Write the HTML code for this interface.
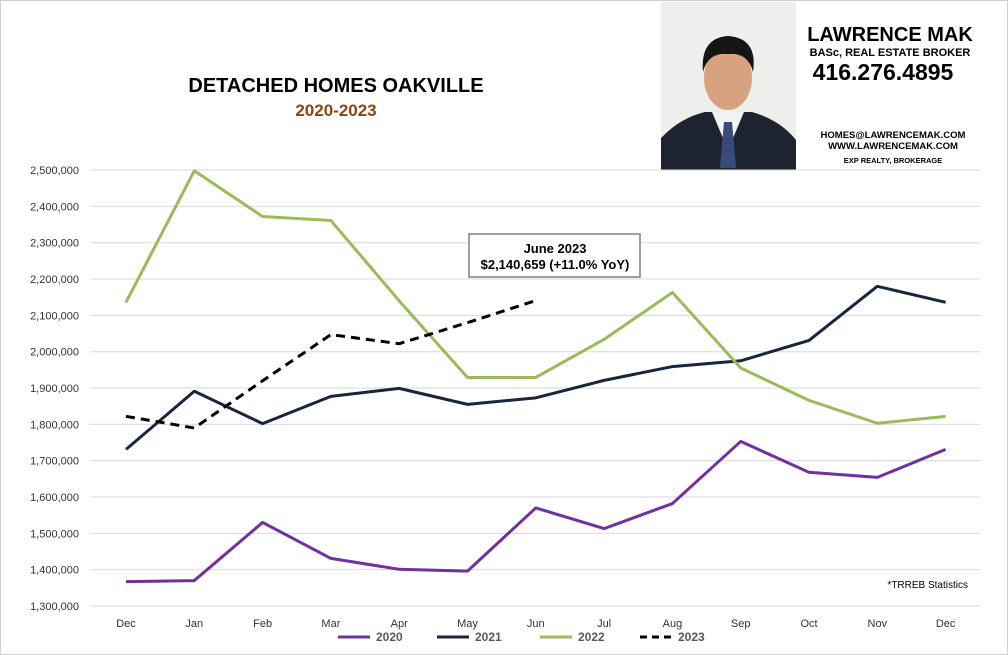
<!DOCTYPE html>
<html><head><meta charset="utf-8"><style>
body{margin:0;background:#fff;font-family:"Liberation Sans",Arial,sans-serif}
svg{display:block}
</style></head><body>
<svg width="1008" height="655" viewBox="0 0 1008 655" xmlns="http://www.w3.org/2000/svg">
<rect x="0.5" y="0.5" width="1007" height="654" fill="#fff" stroke="#d0d0d0"/>
<text x="336" y="92" text-anchor="middle" font-size="20" font-weight="bold" fill="#000">DETACHED HOMES OAKVILLE</text>
<text x="336" y="116" text-anchor="middle" font-size="17" font-weight="bold" fill="#8b4513">2020-2023</text>
<g>
<rect x="661" y="2" width="135" height="168" fill="#eeeeec"/>
<path d="M661 170 L661 138 Q680 118 705 112 L752 112 Q780 120 796 140 L796 170 Z" fill="#1d2430"/>
<path d="M712 112 L728 150 L744 112 Z" fill="#f2f2f2"/>
<path d="M724 122 L732 122 L736 168 L720 168 Z" fill="#3a4a78"/>
<ellipse cx="728" cy="78" rx="24" ry="32" fill="#d7a27f"/>
<path d="M703 72 Q700 38 728 36 Q758 38 753 72 Q748 52 728 54 Q708 52 703 72Z" fill="#151515"/>
<text x="890" y="41" text-anchor="middle" font-size="20" font-weight="bold" fill="#000">LAWRENCE MAK</text>
<text x="890" y="56" text-anchor="middle" font-size="11" font-weight="bold" fill="#000">BASc, REAL ESTATE BROKER</text>
<text x="883" y="80" text-anchor="middle" font-size="23" font-weight="bold" fill="#000">416.276.4895</text>
<text x="893" y="138" text-anchor="middle" font-size="9.5" font-weight="bold" fill="#000">HOMES@LAWRENCEMAK.COM</text>
<text x="893" y="149" text-anchor="middle" font-size="9.5" font-weight="bold" fill="#000">WWW.LAWRENCEMAK.COM</text>
<text x="893" y="163" text-anchor="middle" font-size="7.5" font-weight="bold" fill="#000">EXP REALTY, BROKERAGE</text>
</g>
<g id="grid"></g><g id="ylab"></g><g id="xlab"></g><g id="series"></g>
<g>
<rect x="469" y="234" width="171" height="43" fill="#fff" stroke="#808080" stroke-width="1.5"/>
<text x="555" y="253" text-anchor="middle" font-size="13" font-weight="bold">June 2023</text>
<text x="555" y="269" text-anchor="middle" font-size="13" font-weight="bold">$2,140,659  (+11.0%  YoY)</text>
</g>
<text x="968" y="588" text-anchor="end" font-size="10" fill="#000">*TRREB Statistics</text>
<g id="legend"></g>
</svg>
<script>
const categories=["Dec","Jan","Feb","Mar","Apr","May","Jun","Jul","Aug","Sep","Oct","Nov","Dec"];
const yTicks=[1300000,1400000,1500000,1600000,1700000,1800000,1900000,2000000,2100000,2200000,2300000,2400000,2500000];
const seriesNames=["2020","2021","2022","2023"];
const s2020=[1367000,1370000,1530000,1431000,1401000,1396000,1570000,1513000,1582000,1753000,1668000,1654000,1731000];
const s2021=[1731000,1891000,1802000,1877000,1899000,1855000,1873000,1921000,1959000,1975000,2031000,2180000,2136000];
const s2022=[2136000,2498000,2372000,2361000,2140000,1929000,1929000,2034000,2163000,1955000,1866000,1803000,1822000];
const s2023=[1822000,1790000,1920000,2047000,2022000,2080000,2140659];
const NS="http://www.w3.org/2000/svg";
function y(v){return 606-(v-1300000)/100000*36.33;}
function x(i){return 126+i*68.3;}
function mk(t,a,p){const e=document.createElementNS(NS,t);for(const k in a)e.setAttribute(k,a[k]);document.getElementById(p).appendChild(e);return e;}
yTicks.forEach(v=>{
 const g=mk("line",{x1:90,x2:980,y1:y(v),y2:y(v),stroke:"#d9d9d9","stroke-width":1},"grid");
 
 
 const t=mk("text",{x:79,y:y(v)+4,"text-anchor":"end","font-size":11,fill:"#333"},"ylab");
 t.textContent=v.toLocaleString("en-US");
 
 
});
categories.forEach((c,i)=>{
 const t=mk("text",{x:x(i),y:627,"text-anchor":"middle","font-size":11,fill:"#333"},"xlab");
 t.textContent=c;
 
 
});
const data=[s2020,s2021,s2022,s2023];
const colors=["#7030a0","#17263c","#9bbb59","#000"];
data.forEach((d,k)=>{
 const p=mk("polyline",{points:d.map((v,i)=>x(i)+","+y(v)).join(" "),fill:"none",stroke:colors[k],"stroke-width":3,"stroke-linejoin":"round","stroke-dasharray":k==3?"9,6":"none"},"series");
 
 
});
const lx=[338,437,540,640];
seriesNames.forEach((n,k)=>{
 const l=mk("line",{x1:lx[k],x2:lx[k]+32,y1:637,y2:637,stroke:colors[k],"stroke-width":3,"stroke-dasharray":k==3?"7,5":"none"},"legend");
 
 
 const t=mk("text",{x:lx[k]+38,y:641,"font-size":12,"font-weight":"bold",fill:"#595959"},"legend");
 t.textContent=n;
 
 
});
</script>
</body></html>
